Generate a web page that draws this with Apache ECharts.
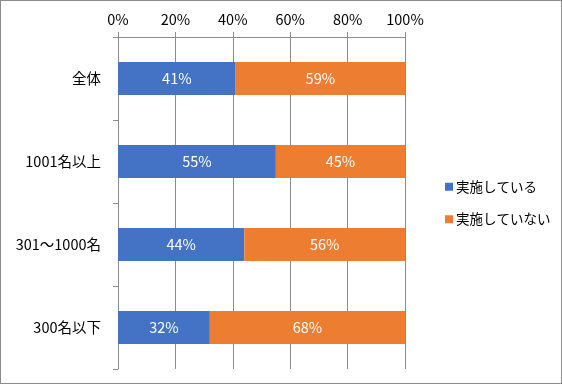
<!DOCTYPE html>
<html><head><meta charset="utf-8">
<script src="https://cdn.jsdelivr.net/npm/echarts@6/dist/echarts.min.js"></script>
<style>
html,body{margin:0;padding:0;background:#fff;}
#c{width:562px;height:384px;box-sizing:border-box;border:1px solid #8c8c8c;}
</style></head>
<body><div id="c"></div>
<script>
const categories = ['全体', '1001名以上', '301～1000名', '300名以下'];
const seriesNames = ['実施している', '実施していない'];
const implemented = [41, 55, 44, 32];
const notImplemented = [59, 45, 56, 68];
const xTicks = [0, 20, 40, 60, 80, 100];

const font = '"Noto Sans CJK JP", "Noto Sans", sans-serif';
const chart = echarts.init(document.getElementById('c'), null, {renderer: 'canvas'});
const labelOpt = {show: true, position: 'inside', color: '#ffffff', fontSize: 14.5, fontFamily: font, formatter: p => p.value + '%'};
chart.setOption({
  animation: false,
  textStyle: {fontFamily: font},
  grid: {left: 117, top: 36, right: 156, bottom: 14, containLabel: false},
  legend: {
    orient: 'vertical', left: 439, top: 174, itemWidth: 8, itemHeight: 8, itemGap: 19,
    icon: 'rect', data: seriesNames,
    textStyle: {fontSize: 13.5, color: '#000', fontFamily: font, padding: [0, 0, 0, -2]}
  },
  xAxis: {
    type: 'value', position: 'top', min: xTicks[0], max: xTicks[xTicks.length - 1], interval: 20,
    axisLine: {show: true, lineStyle: {color: '#8c8c8c'}},
    axisTick: {show: true, length: 5, lineStyle: {color: '#8c8c8c'}},
    splitLine: {show: true, lineStyle: {color: '#8c8c8c'}},
    axisLabel: {formatter: v => v + '%', color: '#000', fontSize: 14.5, fontFamily: font, margin: 10}
  },
  yAxis: {
    type: 'category', inverse: true, data: categories,
    axisLine: {show: true, lineStyle: {color: '#8c8c8c'}},
    axisTick: {show: true, length: 5, lineStyle: {color: '#8c8c8c'}},
    axisLabel: {color: '#000', fontSize: 14.5, fontFamily: font, margin: 17}
  },
  series: [
    {name: seriesNames[0], type: 'bar', stack: 't', data: implemented, barWidth: 33,
     itemStyle: {color: '#4472c4'}, label: labelOpt},
    {name: seriesNames[1], type: 'bar', stack: 't', data: notImplemented, barWidth: 33,
     itemStyle: {color: '#ed7d31'}, label: labelOpt}
  ]
});
</script></body></html>
